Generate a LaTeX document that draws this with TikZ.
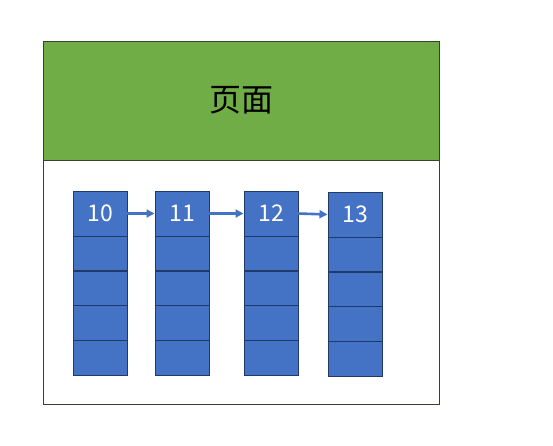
\documentclass[tikz,border=0pt]{standalone}
\usepackage{fontspec}
\setmainfont{Carlito}
\newfontfamily\cjk{Noto Sans CJK SC}
\usetikzlibrary{arrows.meta}
\definecolor{cellblue}{HTML}{4472C4}
\definecolor{celledge}{HTML}{1F3A66}
\definecolor{headgreen}{HTML}{70AD47}
\definecolor{frameedge}{HTML}{3A4030}
\tikzset{
  cell/.style={draw=celledge, line width=0.8pt, fill=cellblue, rectangle, inner sep=0pt, outer sep=0pt,
    minimum width=54pt, anchor=north west, text=white, font=\cjk\fontsize{23}{23}\selectfont},
  link/.style={draw=cellblue, line width=2.6pt, -{Triangle[length=8pt,width=8pt]}, shorten >=0.5pt},
  seam/.style={draw=celledge, line width=1.4pt},
}
\begin{document}
\begin{tikzpicture}[x=1pt,y=-1pt]
\useasboundingbox (0,0) rectangle (553,445);
\node[draw=frameedge, line width=0.8pt, fill=white, rectangle, inner sep=0pt, outer sep=0pt, anchor=north west,
  minimum width=396pt, minimum height=363pt] (frame) at (43,41) {};
\node[draw=frameedge, line width=0.8pt, fill=headgreen, rectangle, inner sep=0pt, outer sep=0pt, anchor=north west,
  minimum width=396pt, minimum height=119pt, font=\cjk\fontsize{32}{32}\selectfont] (head) at (43,41) {\raisebox{2pt}{页面}};
\foreach \n/\x/\y/\lab in {1/73/191/10, 2/155/191/11, 3/244/191/12, 4/328/192/13}{
  \node[cell, minimum height=45pt] (c\n a) at (\x,\y) {\lab};
  \node[cell, minimum height=35pt] (c\n b) at (c\n a.south west) {};
  \node[cell, minimum height=34pt] (c\n c) at (c\n b.south west) {};
  \node[cell, minimum height=35pt] (c\n d) at (c\n c.south west) {};
  \node[cell, minimum height=35pt] (c\n e) at (c\n d.south west) {};
  \draw[seam] (c\n c.north west) -- (c\n c.north east);
}
\draw[link] (c1a.east) -- (c2a.west);
\draw[link] (c2a.east) -- (c3a.west);
\draw[link] (c3a.east) -- (c4a.west);
\end{tikzpicture}
\end{document}
